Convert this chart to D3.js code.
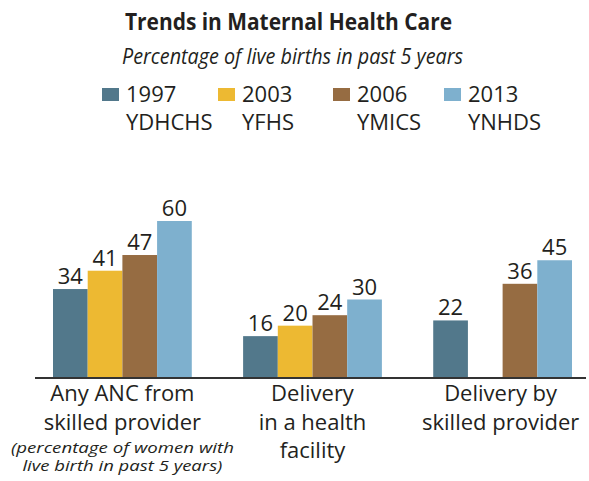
<!DOCTYPE html>
<html>
<head>
<meta charset="utf-8">
<script src="https://cdn.jsdelivr.net/npm/d3@7"></script>
<style>
  html, body { margin: 0; padding: 0; background: #fff; }
  text { font-family: "Open Sans", "Noto Sans", sans-serif; fill: #231f20; }
</style>
</head>
<body>
<svg id="chart" width="589" height="481"></svg>
<script>
// ---- data ----
const categories = ["Any ANC from skilled provider", "Delivery in a health facility", "Delivery by skilled provider"];
const categoryLines = [["Any ANC from", "skilled provider"], ["Delivery", "in a health", "facility"], ["Delivery by", "skilled provider"]];
const categoryNote = ["(percentage of women with", "live birth in past 5 years)"];
const years = ["1997", "2003", "2006", "2013"];
const surveys = ["YDHCHS", "YFHS", "YMICS", "YNHDS"];
const values1997 = [34, 16, 22];
const values2003 = [41, 20, null];
const values2006 = [47, 24, 36];
const values2013 = [60, 30, 45];
const colors = ["#52788b", "#edb932", "#966c42", "#7eb0ce"];
const title = "Trends in Maternal Health Care";
const subtitle = "Percentage of live births in past 5 years";

const seriesValues = [values1997, values2003, values2006, values2013];

const svg = d3.select("#chart");

const x0 = d3.scaleBand().domain(categories).range([53, 572]).paddingInner(0.27).paddingOuter(0);
const x1 = d3.scaleBand().domain(years).range([0, x0.bandwidth()]).padding(0);
const y = d3.scaleLinear().domain([0, 60]).range([378, 221]);
const color = d3.scaleOrdinal().domain(years).range(colors);

// title
svg.append("text").attr("x", 288.5).attr("y", 30).attr("text-anchor", "middle")
  .style("font-size", "24px").style("font-weight", "bold").attr("textLength", 327).attr("lengthAdjust", "spacingAndGlyphs").text(title);
svg.append("text").attr("x", 292.5).attr("y", 64).attr("text-anchor", "middle")
  .style("font-size", "22px").style("font-style", "italic").attr("textLength", 341).attr("lengthAdjust", "spacingAndGlyphs").text(subtitle);

// legend
const legendX = [102, 218, 333, 444];
const lg = svg.selectAll("g.legend").data(years).join("g").attr("class", "legend")
  .attr("transform", (d, i) => `translate(${legendX[i]},0)`);
lg.append("rect").attr("x", 0).attr("y", 88).attr("width", 17).attr("height", 13).attr("fill", d => color(d));
lg.append("text").attr("x", 24).attr("y", 102).style("font-size", "22px").text(d => d);
lg.append("text").attr("x", 24).attr("y", 130).style("font-size", "22px").text((d, i) => surveys[i]);

// bars
const rows = categories.map((c, ci) => ({ cat: c, vals: years.map((yr, si) => ({ year: yr, value: seriesValues[si][ci] })) }));
const groups = svg.selectAll("g.group").data(rows).join("g").attr("class", "group")
  .attr("transform", d => `translate(${x0(d.cat)},0)`);
const barData = d => d.vals.filter(v => v.value != null);
groups.selectAll("rect").data(barData).join("rect")
  .attr("x", d => x1(d.year)).attr("width", x1.bandwidth())
  .attr("y", d => y(d.value)).attr("height", d => y(0) - y(d.value))
  .attr("fill", d => color(d.year));
groups.selectAll("text.val").data(barData).join("text").attr("class", "val")
  .attr("x", d => x1(d.year) + x1.bandwidth() / 2).attr("y", d => y(d.value) - 5)
  .attr("text-anchor", "middle").style("font-size", "22px").text(d => d.value);

// axis baseline
const xAxis = d3.axisBottom(x0).tickSize(0).tickFormat("");
const ax = svg.append("g").attr("transform", `translate(0,${y(0)})`).call(xAxis);
ax.select(".domain").attr("d", "M35,0H586").attr("stroke", "#333").attr("stroke-width", 2.2);

// category labels
const lab = svg.selectAll("g.catlab").data(categories).join("g").attr("class", "catlab")
  .attr("transform", (d, i) => `translate(${x0(d) + x0.bandwidth() / 2 + (i === 2 ? -2 : 0)},0)`);
lab.each(function (d, i) {
  d3.select(this).selectAll("text").data(categoryLines[i]).join("text")
    .attr("x", 0).attr("y", (t, j) => 401 + j * 28.5).attr("text-anchor", "middle")
    .style("font-size", "22px").text(t => t);
});
const noteLen = [223, 200];
lab.filter((d, i) => i === 0).selectAll("text.note").data(categoryNote).join("text").attr("class", "note")
  .attr("x", 0).attr("y", (t, j) => 453 + j * 18).attr("text-anchor", "middle")
  .style("font-size", "15px").style("font-style", "italic")
  .attr("textLength", (t, j) => noteLen[j]).attr("lengthAdjust", "spacingAndGlyphs").text(t => t);
</script>
</body>
</html>
